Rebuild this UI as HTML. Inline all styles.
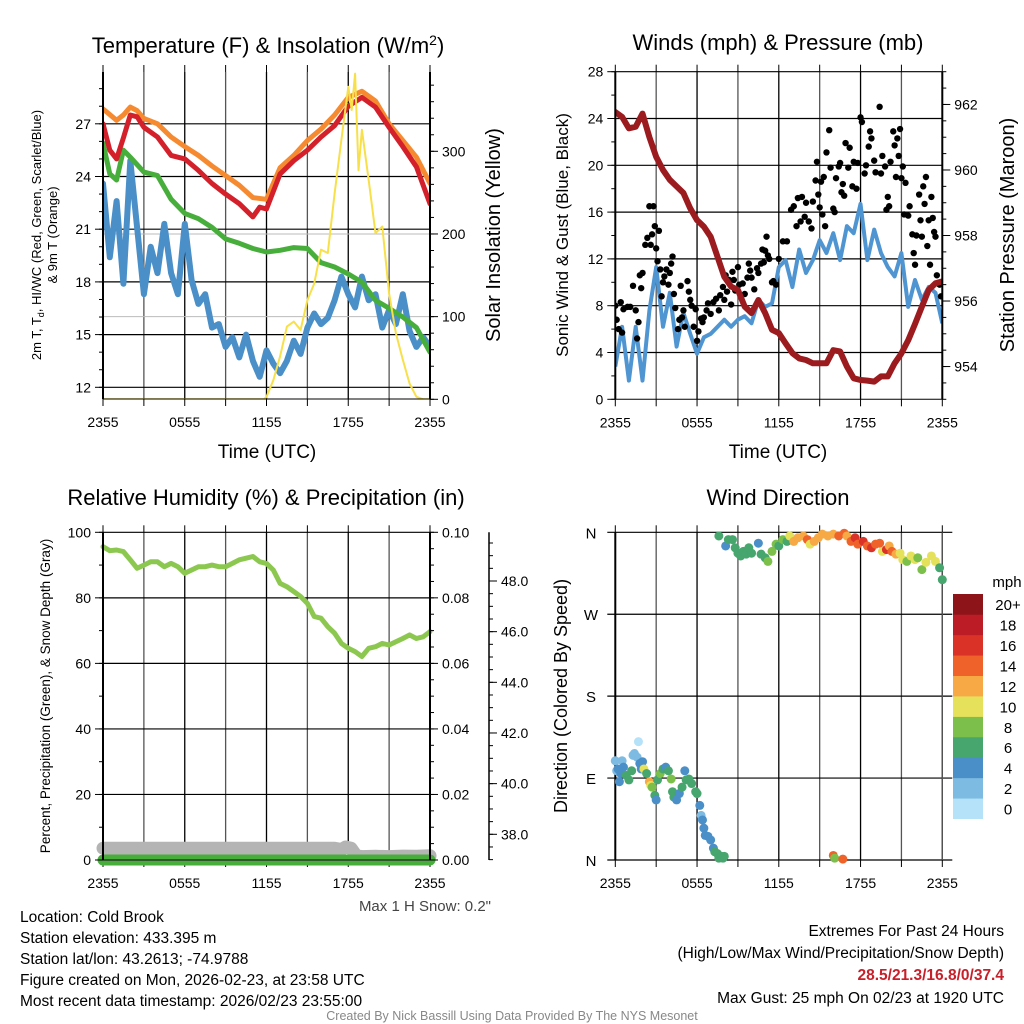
<!DOCTYPE html>
<html><head><meta charset="utf-8"><style>
html,body{margin:0;padding:0;background:#fff;}
svg{display:block;font-family:"Liberation Sans",Arial,sans-serif;}
</style></head><body>
<svg id="chart" width="1024" height="1024" viewBox="0 0 1024 1024">
<rect width="1024" height="1024" fill="#fff"/>
</svg>
<script>
// ---------- data ----------
const hourTicks = [0, 6, 12, 18, 24];
const hourTickLabels = ["2355", "0555", "1155", "1755", "2355"];
const halfHours = [0,0.5,1,1.5,2,2.5,3,3.5,4,4.5,5,5.5,6,6.5,7,7.5,8,8.5,9,9.5,10,10.5,11,11.5,12,12.5,13,13.5,14,14.5,15,15.5,16,16.5,17,17.5,18,18.5,19,19.5,20,20.5,21,21.5,22,22.5,23,23.5,24];
const hourly = [0,1,2,3,4,5,6,7,8,9,10,11,12,13,14,15,16,17,18,19,20,21,22,23,24];

const temp9mHours = [0,1,1.5,2,2.5,3,4,5,6,7,8,9,10,11,12,13,14,15,16,17,18,19,20,21,22,23,24];
const temp9m = [27.85,27.2,27.5,27.95,27.75,27.3,27.0,26.25,25.7,25.2,24.6,24.05,23.5,22.8,22.7,24.5,25.2,26.05,26.7,27.5,28.5,28.85,28.3,27.0,26.05,25.1,23.6];
const temp2mHours = [0,0.5,1,1.5,2,2.5,3,4,5,6,7,8,9,10,11,11.5,12,13,14,15,16,17,18,19,20,21,22,23,24];
const temp2m = [27.0,25.5,25.0,26.2,27.5,27.4,26.8,26.25,25.2,25.0,24.35,23.6,23.0,22.45,21.7,22.25,22.15,24.15,24.9,25.5,26.25,26.9,28.0,28.5,27.95,26.8,25.7,24.55,22.45];
const dewHours = [0,0.5,1,1.5,2,3,4,5,6,7,8,9,10,11,12,13,14,15,16,17,18,19,20,21,22,23,24];
const dewPoint = [25.9,24.15,23.8,25.5,25.1,24.25,24.05,22.7,21.9,21.6,21.1,20.45,20.2,19.9,19.7,19.8,19.95,19.9,19.1,18.85,18.45,17.99,16.95,16.5,16.0,15.4,14.0];
const windChill = [23.6,19.4,22.6,17.9,24.9,21.1,17.3,20.0,18.5,21.3,18.5,17.3,21.3,18.1,16.75,17.3,15.4,15.6,14.3,14.85,13.7,15.0,13.5,12.6,14.1,13.35,12.8,13.5,14.65,13.9,15.4,16.2,15.6,15.95,16.95,18.3,17.3,16.55,18.3,16.95,17.3,15.4,16.4,15.6,17.3,15.2,14.3,14.85,14.3];
const solarHours = [0,11.8,12,12.5,13,13.5,14,14.5,15,15.5,16,16.5,17,17.5,18,18.25,18.5,18.75,19,19.5,20,20.5,21,21.5,22,22.5,23,23.5,24];
const solar = [0,0,3,23,52,88,94,84,120,140,181,177,249,314,378,350,394,277,326,265,201,209,128,80,48,19,3,0,0];

const pressure = [961.77,961.62,961.27,961.32,961.72,961.0,960.4,960.0,959.7,959.5,959.3,958.83,958.47,958.27,957.96,957.35,956.74,956.44,956.34,955.83,955.63,956.03,955.63,955.12,955.02,954.71,954.41,954.25,954.2,954.1,954.1,954.1,954.5,954.46,954.0,953.64,953.59,953.57,953.54,953.7,953.7,954.1,954.4,954.8,955.3,955.83,956.34,956.54,956.6];
const windSpeed = [2.8,6.2,1.6,6.2,1.6,7.6,11.3,6.2,9.1,4.5,7.4,5.6,3.9,5.3,5.6,6.2,6.8,6.2,6.8,7.1,6.5,8.5,7.9,8.2,11.3,11.9,9.6,12.8,10.8,11.9,13.6,12.5,14.2,11.9,14.8,14.2,16.7,11.9,14.5,12.5,11.3,10.5,12.5,7.9,10.2,8.5,9.6,9.1,6.5];
const gustHours = [0,0.1,0.25,0.4,0.5,0.6,0.9,1.1,1.3,1.5,1.6,1.7,1.8,1.9,2.0,2.2,2.35,2.5,2.6,2.7,2.8,2.9,3.0,3.1,3.2,3.3,3.4,3.5,3.6,3.75,3.9,4.0,4.1,4.2,4.3,4.4,4.6,4.7,4.8,4.9,5.0,5.1,5.3,5.4,5.5,5.6,5.75,5.9,6.0,6.1,6.3,6.4,6.5,6.7,6.8,7.0,7.2,7.4,7.6,7.7,7.9,8.0,8.1,8.2,8.35,8.5,8.6,8.7,8.8,9.0,9.1,9.2,9.35,9.5,9.7,9.8,9.9,10.0,10.2,10.4,10.5,10.7,10.8,10.9,11.0,11.1,11.2,11.3,11.5,11.6,11.8,12.0,12.3,12.6,12.9,13.1,13.3,13.4,13.6,13.7,13.9,14.0,14.2,14.4,14.5,14.7,14.8,14.9,15.0,15.1,15.2,15.3,15.4,15.5,15.7,15.8,16.0,16.1,16.2,16.4,16.5,16.6,16.7,16.8,16.9,17.1,17.2,17.4,17.5,17.7,17.8,18.0,18.1,18.3,18.4,18.6,18.7,18.8,19.0,19.1,19.4,19.5,19.6,19.8,19.9,20.0,20.1,20.2,20.4,20.5,20.6,20.7,20.8,20.9,21.0,21.1,21.2,21.3,21.5,21.6,21.8,21.9,22.0,22.1,22.3,22.4,22.5,22.6,22.7,22.8,22.9,23.0,23.1,23.2,23.3,23.4,23.5,23.6,23.8,23.9];
const gusts = [8.0,6.8,6.0,8.3,5.7,7.7,7.9,7.9,9.7,7.6,5.2,6.6,10.6,9.5,10.8,13.2,13.8,16.5,13.2,14.1,16.5,14.8,12.9,11.8,14.4,11.1,8.8,10.0,10.5,11.1,9.8,10.8,11.6,12.2,9.0,7.8,6.0,6.8,9.7,7.0,7.6,6.2,10.1,9.2,8.5,8.0,6.2,7.7,5.0,5.8,6.9,6.6,7.0,7.6,8.2,7.3,8.3,8.6,7.6,8.9,9.6,8.5,10.6,9.2,10.2,8.1,10.9,10.2,9.3,11.3,9.8,8.9,9.9,9.0,10.4,11.6,11.0,10.4,9.4,11.2,10.8,11.6,12.8,11.7,12.7,13.9,12.3,12.0,10.0,10.1,9.8,12.0,13.5,13.5,16.2,16.5,14.8,17.2,15.2,17.3,15.6,16.8,15.2,14.6,16.9,18.7,20.3,17.5,16.4,18.6,15.8,19.0,14.8,21.1,23.0,19.8,16.3,16.0,18.9,19.9,20.2,17.7,18.4,17.4,21.9,19.8,21.5,18.2,20.3,18.0,20.2,24.1,23.7,19.3,20.0,21.6,22.9,22.3,20.4,19.4,25.0,19.3,20.8,19.9,16.2,17.3,16.5,20.3,22.9,21.7,19.0,22.3,20.8,23.1,18.9,19.9,15.8,18.5,15.7,16.5,14.1,12.5,11.5,14.0,17.5,15.3,13.9,18.2,16.7,19.0,13.1,15.3,11.5,17.3,15.5,14.3,13.9,10.6,9.8,8.8];

const humidity = [95.6,94.4,94.6,94.1,91.6,89.0,90.0,91.0,91.0,89.5,90.5,89.5,87.5,88.5,89.5,89.5,90.0,89.5,89.5,90.5,91.6,92.1,92.6,91.0,90.5,88.5,84.4,83.4,81.9,80.4,78.3,74.3,73.8,71.2,69.2,66.1,64.6,63.6,62.1,64.6,65.1,66.1,65.6,66.6,67.6,68.7,67.6,68.1,69.7];
const precip = [0,0,0,0,0,0,0,0,0,0,0,0,0,0,0,0,0,0,0,0,0,0,0,0,0];
const snowHours = [0,17,17.5,17.8,18.2,18.6,19,20,21,22,23,24];
const snowDepth = [37.45,37.45,37.4,37.5,37.45,37.15,37.12,37.13,37.12,37.14,37.13,37.15];

const dirHours = [0,0.1,0.2,0.3,0.4,0.5,0.6,0.8,1.0,1.2,1.3,1.4,1.6,1.7,1.8,1.9,2.0,2.1,2.3,2.5,2.6,2.7,2.9,3.0,3.1,3.3,3.5,3.7,3.9,4.1,4.2,4.3,4.5,4.7,4.9,5.1,5.2,5.4,5.6,5.9,6.0,6.2,6.3,6.4,6.5,6.6,6.8,7.0,7.2,7.3,7.5,7.6,7.8,7.9,8.0,
7.6,8.1,8.3,8.6,8.8,9.0,9.2,9.4,9.6,9.8,10.0,10.5,10.7,11.0,11.2,11.5,11.8,12.0,12.3,12.6,12.8,13.1,13.4,13.8,14.1,14.3,14.6,14.9,15.2,15.6,16.0,16.4,16.8,17.0,17.3,17.6,17.8,18.2,18.5,18.8,19.1,19.4,19.6,19.9,20.1,20.3,20.6,20.9,21.1,21.4,21.7,22.0,22.2,22.5,22.8,23.2,23.5,23.8,24.0,16.0,16.1,16.7];
const dirDegrees = [109,98,100,86,95,109,102,93,88,98,115,117,113,130,106,100,108,100,95,86,82,80,71,66,88,95,100,102,98,89,75,69,66,73,80,98,88,89,84,75,73,60,49,44,35,27,26,22,13,9,7,2,4,2,4,
356,345,352,352,343,337,334,339,336,343,337,348,336,332,328,339,347,345,352,350,356,350,354,356,352,347,350,354,358,356,358,356,359,356,350,354,347,350,345,343,347,348,339,341,345,339,336,337,330,328,334,330,332,319,327,334,328,321,308,5,2,1];
const dirSpeeds = [3,2,4,4,5,2,4,6,6,6,2,2,2,1,4,5,4,10,7,12,10,8,6,4,7,8,6,5,6,8,6,6,4,4,7,4,6,6,6,6,7,4,2,4,4,4,4,4,4,6,6,6,6,6,6,
6,4,6,6,6,6,6,6,6,6,6,4,6,6,8,8,8,6,8,6,10,12,12,12,14,10,12,12,12,12,12,14,14,12,14,16,14,16,14,16,14,14,10,16,12,14,12,10,10,8,10,10,8,8,10,10,10,6,6,14,8,14];
const speedBins = ["0","2","4","6","8","10","12","14","16","18","20+"];
const binColors = ["#b5e2f8","#7dbbe3","#4a8fc8","#47a56e","#7cc04b","#e6e15a","#f6a944","#ef6229","#db3227","#bb1c26","#8d1519"];

// ---------- helpers ----------
const svg = document.getElementById('chart');
const NS = "http://www.w3.org/2000/svg";
function mk(tag, attrs, parent, txt){
  const e = document.createElementNS(NS, tag);
  for (const k in attrs) e.setAttribute(k, attrs[k]);
  if (txt !== undefined) e.textContent = txt;
  (parent || svg).appendChild(e);
  return e;
}
function lin(d0,d1,r0,r1){ return v => r0 + (v-d0)/(d1-d0)*(r1-r0); }
function pathFrom(xs, ys, fx, fy){
  return xs.map((x,i)=>(i?"L":"M")+fx(x).toFixed(1)+","+fy(ys[i]).toFixed(1)).join(" ");
}

function panelFrame(g, L, R, T, B){
  const fx = lin(0,24,L,R);
  for (let h=0; h<=24; h+=3){
    const l = mk('line',{x1:fx(h),x2:fx(h),y1:T,y2:B,stroke:(h%6===3?'#555':'#000'),'stroke-width':1.3},g);
    
    
    mk('line',{x1:fx(h),x2:fx(h),y1:B,y2:B+7,stroke:'#000','stroke-width':1},g);
    mk('line',{x1:fx(h),x2:fx(h),y1:T,y2:T-7,stroke:'#000','stroke-width':1},g);
  }
  hourTicks.forEach((h,i)=>{
    const t = mk('text',{x:fx(h),y:B+28,'font-size':14,'text-anchor':'middle',fill:'#000'},g,hourTickLabels[i]);
    
    
  });
  return fx;
}
function borders(g,L,R,T,B){
  mk('line',{x1:L,x2:L,y1:T,y2:B,stroke:'#000','stroke-width':2},g);
  mk('line',{x1:R,x2:R,y1:T,y2:B,stroke:'#000','stroke-width':2},g);
}
function yAxis(g, side, xPos, fy, majors, labels, minors, fs){
  const dir = side==='left' ? -1 : 1;
  minors.forEach(v=>mk('line',{x1:xPos,x2:xPos+dir*4,y1:fy(v),y2:fy(v),stroke:'#000','stroke-width':1},g));
  majors.forEach((v,i)=>{
    mk('line',{x1:xPos,x2:xPos+dir*8,y1:fy(v),y2:fy(v),stroke:'#000','stroke-width':1},g);
    const t = mk('text',{x:xPos+dir*12,y:fy(v)+5,'font-size':fs||14,'text-anchor':side==='left'?'end':'start',fill:'#000'},g,labels[i]);
    
    
  });
}
function rotText(g, x, y, txt, fs, name){
  const t = mk('text',{x:0,y:0,transform:`translate(${x},${y}) rotate(-90)`,'font-size':fs,'text-anchor':'middle',fill:'#000'},g,txt);
  
  
  return t;
}
function range(a,b,s){ const r=[]; for(let v=a; v<=b+1e-9; v+=s) r.push(+v.toFixed(4)); return r; }

// ---------- Panel 1: Temperature ----------
(function(){
  const g = mk('g',{});  
  const L=103,R=430,T=72,B=399;
  const fx = panelFrame(g,L,R,T,B);
  const fy = lin(12,27,387.3,123.8);
  const fs = lin(0,300,399.3,151.3);
  [12,15,18,21,24,27].forEach(v=>mk('line',{x1:L,x2:R,y1:fy(v),y2:fy(v),stroke:'#000','stroke-width':1.2},g));
  [100,200].forEach(v=>mk('line',{x1:L,x2:R,y1:fs(v),y2:fs(v),stroke:'#bbb','stroke-width':1},g));
  const cl = mk('clipPath',{id:'c1'},g); mk('rect',{x:L,y:T,width:R-L,height:B-T},cl);
  const dg = mk('g',{'clip-path':'url(#c1)'},g);
  const series = [
    [halfHours, windChill, '#4a8fc8', 6, 'wind-chill-line'],
    [dewHours, dewPoint, '#47ae3c', 5, 'dewpoint-line'],
    [temp9mHours, temp9m, '#f58a30', 5, 'temp-9m-line'],
    [temp2mHours, temp2m, '#d4202a', 5, 'temp-2m-line'],
  ];
  series.forEach(s=>{
    const p = mk('path',{d:pathFrom(s[0],s[1],fx,fy),fill:'none',stroke:s[2],'stroke-width':s[3],'stroke-linejoin':'round','stroke-linecap':'round'},dg);
    
    
  });
  const sp = mk('path',{d:pathFrom(solarHours,solar,fx,fs),fill:'none',stroke:'#f7e04a','stroke-width':2,'stroke-linejoin':'round'},dg);
  
  
  borders(g,L,R,T,B);
  mk('line',{x1:L,x2:R,y1:B,y2:B,stroke:'#000','stroke-width':1},g);
  yAxis(g,'left',L,fy,[12,15,18,21,24,27],["12","15","18","21","24","27"],range(12,29,1),14);
  yAxis(g,'right',R,fs,[0,100,200,300],["0","100","200","300"],range(0,390,20),14);
  const t = mk('text',{x:268,y:53,'font-size':22,'text-anchor':'middle'},g);
   
  t.innerHTML = 'Temperature (F) &amp; Insolation (W/m<tspan dy="-8" font-size="14">2</tspan><tspan dy="8">)</tspan>';
  const xl = mk('text',{x:267,y:458,'font-size':19,'text-anchor':'middle'},g,'Time (UTC)');
   
  const yl = mk('text',{transform:'translate(41,235) rotate(-90)','font-size':13,'text-anchor':'middle'},g);
   
  yl.innerHTML = '2m T, T<tspan dy="3" font-size="9">d</tspan><tspan dy="-3">, HI/WC (Red, Green, Scarlet/Blue)</tspan>';
  rotText(g,57,235,'& 9m T (Orange)',13,'left-y-axis-title-line2');
  rotText(g,500,235,'Solar Insolation (Yellow)',20,'right-y-axis-title');
})();

// ---------- Panel 2: Winds & Pressure ----------
(function(){
  const g = mk('g',{});  
  const L=615.3,R=942.3,T=71.7,B=399.3;
  const fx = panelFrame(g,L,R,T,B);
  const fy = lin(0,28,B,T);
  const fp = lin(953,963,B,T);
  range(4,24,4).forEach(v=>mk('line',{x1:L,x2:R,y1:fy(v),y2:fy(v),stroke:'#000','stroke-width':1.2},g));
  mk('line',{x1:L,x2:R,y1:T,y2:T,stroke:'#000','stroke-width':1.2},g);
  mk('line',{x1:L,x2:R,y1:B,y2:B,stroke:'#000','stroke-width':1},g);
  const cl = mk('clipPath',{id:'c2'},g); mk('rect',{x:L,y:T,width:R-L,height:B-T},cl);
  const dg = mk('g',{'clip-path':'url(#c2)'},g);
  const w = mk('path',{d:pathFrom(halfHours,windSpeed,fx,fy),fill:'none',stroke:'#4f95d2','stroke-width':4,'stroke-linejoin':'round'},dg);
   
  gustHours.forEach((h,i)=>{
    const c = mk('circle',{cx:fx(h),cy:fy(gusts[i]),r:3.2,fill:'#000'},dg);
    
    
  });
  const p = mk('path',{d:pathFrom(halfHours,pressure,fx,fp),fill:'none',stroke:'#9b1b1f','stroke-width':6,'stroke-linejoin':'round','stroke-linecap':'round'},dg);
   
  borders(g,L,R,T,B);
  yAxis(g,'left',L,fy,range(0,28,4),range(0,28,4).map(String),range(0,28,2),14);
  yAxis(g,'right',R,fp,[954,956,958,960,962],["954","956","958","960","962"],range(953,963,0.5),14);
  const t = mk('text',{x:778,y:50,'font-size':22,'text-anchor':'middle'},g,'Winds (mph) & Pressure (mb)');
   
  const xl = mk('text',{x:778,y:458,'font-size':19,'text-anchor':'middle'},g,'Time (UTC)');
   
  rotText(g,568,235,'Sonic Wind & Gust (Blue, Black)',17,'left-y-axis-title');
  rotText(g,1014,235,'Station Pressure (Maroon)',20,'right-y-axis-title');
})();

// ---------- Panel 3: RH & Precip ----------
(function(){
  const g = mk('g',{});  
  const L=103,R=430,T=532.3,B=860;
  const fx = panelFrame(g,L,R,T,B);
  const fy = lin(0,100,B,T);
  const fpr = lin(0,0.1,B,T);
  const fsd = lin(38,48,834.3,581);
  range(20,100,20).forEach(v=>mk('line',{x1:L,x2:R,y1:fy(v),y2:fy(v),stroke:'#000','stroke-width':1.2},g));
  const cl = mk('clipPath',{id:'c3'},g); mk('rect',{x:L-12,y:T,width:R-L+24,height:B-T+12},cl);
  const dg = mk('g',{'clip-path':'url(#c3)'},g);
  const s = mk('path',{d:pathFrom(snowHours,snowDepth,fx,fsd),fill:'none',stroke:'#b4b4b4','stroke-width':13,'stroke-linejoin':'round','stroke-linecap':'round'},dg);
   
  const pr = mk('path',{d:pathFrom(hourly,precip,fx,fpr),fill:'none',stroke:'#47ae3c','stroke-width':11,'stroke-linecap':'round'},dg);
   
  mk('line',{x1:L,x2:R,y1:B,y2:B,stroke:'#222','stroke-width':1.2},g);
  const rh = mk('path',{d:pathFrom(halfHours,humidity,fx,fy),fill:'none',stroke:'#8cc850','stroke-width':5,'stroke-linejoin':'round','stroke-linecap':'round'},g);
   
  borders(g,L,R,T,B);
  yAxis(g,'left',L,fy,range(0,100,20),range(0,100,20).map(String),range(0,100,10),14);
  yAxis(g,'right',R,fpr,range(0,0.1,0.02),["0.00","0.02","0.04","0.06","0.08","0.10"],range(0,0.1,0.005),14);
  mk('line',{x1:489,x2:489,y1:T,y2:B,stroke:'#000','stroke-width':1.5},g);
  yAxis(g,'right',489,fsd,[38,40,42,44,46,48],["38.0","40.0","42.0","44.0","46.0","48.0"],range(37,50,0.5).filter(v=>fsd(v)>=T&&fsd(v)<=B),14);
  const t = mk('text',{x:266,y:505,'font-size':22,'text-anchor':'middle'},g,'Relative Humidity (%) & Precipitation (in)');
   
  rotText(g,50,696,'Percent, Precipitation (Green), & Snow Depth (Gray)',13.5,'left-y-axis-title');
  const ms = mk('text',{x:491,y:911,'font-size':15,'text-anchor':'end',fill:'#444'},g,'Max 1 H Snow: 0.2"');
   
})();

// ---------- Panel 4: Wind Direction ----------
(function(){
  const g = mk('g',{});  
  const L=615.3,R=942.3,T=532.3,B=860;
  const fx = panelFrame(g,L,R,T,B);
  const fy = lin(0,360,B,T);
  [0,90,180,270,360].forEach(v=>mk('line',{x1:L-8,x2:R+10,y1:fy(v),y2:fy(v),stroke:'#000','stroke-width':1.2},g));
  ["N","E","S","W","N"].forEach((lab,i)=>{
    const t = mk('text',{x:591,y:fy(i*90)+6,'font-size':15,'text-anchor':'middle'},g,lab);
     
  });
  mk('line',{x1:L,x2:L,y1:T,y2:B,stroke:'#000','stroke-width':2},g);
  mk('line',{x1:R,x2:R,y1:T,y2:B,stroke:'#555','stroke-width':1.3},g);
  dirHours.forEach((h,i)=>{
    const bin = Math.min(10, Math.floor(dirSpeeds[i]/2));
    const c = mk('circle',{cx:fx(h),cy:fy(dirDegrees[i]),r:4.5,fill:binColors[bin]},g);
    
    
  });
  const t = mk('text',{x:778,y:505,'font-size':22,'text-anchor':'middle'},g,'Wind Direction');
   
  rotText(g,567,696,'Direction (Colored By Speed)',18,'left-y-axis-title');
  const cb = mk('g',{},g);  
  const bh = (818.7-594)/11;
  speedBins.forEach((lab,i)=>{
    const y = 818.7 - (i+1)*bh;
    const r = mk('rect',{x:953,y:y,width:30,height:bh+0.3,fill:binColors[i]},cb);
     
    const tt = mk('text',{x:1008,y:y+bh/2+6,'font-size':15,'text-anchor':'middle'},cb,lab);
     
  });
  const u = mk('text',{x:1007,y:587,'font-size':15,'text-anchor':'middle'},cb,'mph');
   
})();

// ---------- footer text ----------
(function(){
  const g = mk('g',{});  
  const lines = ["Location: Cold Brook","Station elevation: 433.395 m","Station lat/lon: 43.2613; -74.9788","Figure created on Mon, 2026-02-23, at 23:58 UTC","Most recent data timestamp: 2026/02/23 23:55:00"];
  lines.forEach((l,i)=>{
    const t = mk('text',{x:20,y:922+i*21,'font-size':15.5},g,l);
     
  });
  const r1 = mk('text',{x:1004,y:936,'font-size':15.5,'text-anchor':'end'},g,'Extremes For Past 24 Hours');
   
  const r2 = mk('text',{x:1004,y:958,'font-size':15.5,'text-anchor':'end'},g,'(High/Low/Max Wind/Precipitation/Snow Depth)');
   
  const r3 = mk('text',{x:1004,y:980,'font-size':15.5,'text-anchor':'end','font-weight':'bold',fill:'#c8202a'},g,'28.5/21.3/16.8/0/37.4');
   
  const r4 = mk('text',{x:1004,y:1003,'font-size':15.5,'text-anchor':'end'},g,'Max Gust: 25 mph On 02/23 at 1920 UTC');
   
  const c = mk('text',{x:512,y:1020,'font-size':12.5,'text-anchor':'middle',fill:'#888'},g,'Created By Nick Bassill Using Data Provided By The NYS Mesonet');
   
})();
</script>
</body></html>
